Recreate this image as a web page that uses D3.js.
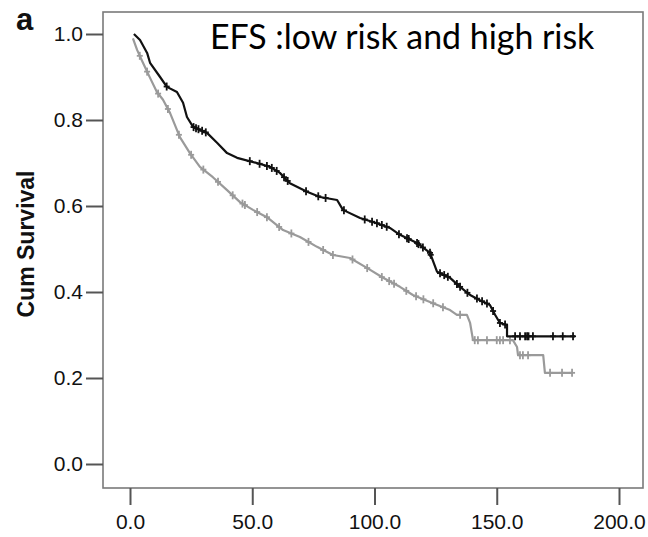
<!DOCTYPE html>
<html>
<head>
<meta charset="utf-8">
<script src="https://cdn.jsdelivr.net/npm/d3@7"></script>
<style>
  body { margin: 0; background: #fff; }
  svg { display: block; }
</style>
</head>
<body>
<div class="chart"></div>
<script>
// Traced Kaplan-Meier outlines (time, cumulative survival)
const lowTimes = [1.6, 4.1, 7.0, 8.2, 12.3, 15.1, 19.2, 21.7, 23.3, 25.8, 31.5, 35.6, 39.7, 43.8, 51.9, 57.3, 61.3, 65.4, 72.4, 77.7, 84.7, 87.1, 94.1, 101.0, 106.3, 110.4, 117.4, 122.7, 125.6, 130.9, 135.0, 139.1, 143.1, 147.2, 149.3, 151.3, 154.2, 154.2, 182];
const lowSurv  = [1.0, 0.986, 0.956, 0.933, 0.900, 0.877, 0.865, 0.840, 0.807, 0.784, 0.770, 0.747, 0.723, 0.712, 0.700, 0.691, 0.677, 0.653, 0.633, 0.621, 0.614, 0.591, 0.572, 0.560, 0.549, 0.533, 0.514, 0.491, 0.447, 0.433, 0.412, 0.393, 0.381, 0.370, 0.347, 0.328, 0.323, 0.297, 0.297];
const lowCensored = [15, 26, 27, 28, 29.5, 31, 49, 53, 56, 58, 60, 63, 64.5, 72, 77, 80, 87.5, 96, 99, 101, 103, 105, 110, 113.3, 114, 117.4, 118, 119.8, 122.7, 123, 126.8, 128.5, 130, 133.7, 135, 138, 141.9, 144, 146, 148.5, 151.3, 153.4, 157.5, 159.5, 161.6, 162.4, 163, 164.8, 173, 177, 181.2];

const highTimes = [1.2, 2.9, 5.3, 8.2, 11.0, 13.5, 16.4, 20.4, 24.5, 28.6, 33.9, 39.7, 45.0, 50.3, 56.0, 62.6, 69.5, 76.5, 83.0, 90.0, 96.9, 103.5, 110.4, 115.7, 123.9, 130.9, 133.7, 137.8, 139.1, 140.3, 156.6, 158.3, 158.7, 169.0, 169.7, 181];
const highSurv  = [0.99, 0.963, 0.933, 0.898, 0.865, 0.847, 0.816, 0.760, 0.723, 0.691, 0.667, 0.637, 0.609, 0.591, 0.574, 0.544, 0.528, 0.505, 0.486, 0.479, 0.456, 0.433, 0.412, 0.393, 0.374, 0.358, 0.347, 0.347, 0.328, 0.288, 0.288, 0.272, 0.253, 0.253, 0.212, 0.212];
const highCensored = [4, 7, 11.5, 15.5, 20, 25, 30, 36, 42, 46, 47, 52, 56, 61, 66, 73, 79, 83, 91, 97, 103, 106, 108, 113, 117, 120, 124, 128, 135, 141, 142.3, 146, 150, 151.3, 152.6, 155.4, 159.5, 160.7, 162.8, 171.8, 176.7, 180.8];

const xTicks = [0, 50, 100, 150, 200];
const yTicks = [0, 0.2, 0.4, 0.6, 0.8, 1.0];

const width = 648, height = 537;
const frame = { left: 103, top: 12, right: 643, bottom: 488 };

const svg = d3.select(".chart").append("svg")
    .attr("width", width)
    .attr("height", height);

const x = d3.scaleLinear().domain([0, 200]).range([130, 619]);
const y = d3.scaleLinear().domain([0, 1]).range([464, 34]);

// plot frame
svg.append("rect")
    .attr("x", frame.left)
    .attr("y", frame.top)
    .attr("width", frame.right - frame.left)
    .attr("height", frame.bottom - frame.top)
    .attr("fill", "none")
    .attr("stroke", "#7a7a7a")
    .attr("stroke-width", 1.6);

// axes
const yAxis = svg.append("g")
    .attr("transform", `translate(${frame.left},0)`)
    .call(d3.axisLeft(y).tickValues(yTicks).tickFormat(d3.format(".1f")).tickSize(17).tickPadding(3));

const xAxis = svg.append("g")
    .attr("transform", `translate(0,${frame.bottom})`)
    .call(d3.axisBottom(x).tickValues(xTicks).tickFormat(d3.format(".1f")).tickSize(17).tickPadding(9));

[yAxis, xAxis].forEach(g => {
    g.select(".domain").remove();
    g.selectAll(".tick line").attr("stroke", "#555").attr("stroke-width", 2);
    g.selectAll(".tick text")
        .attr("fill", "#111")
        .style("font-family", "'Liberation Sans', Arial, sans-serif")
        .style("font-size", "21px");
});

// position on the traced outline for a censor mark
function survAt(times, surv, t) {
    const i = Math.max(1, Math.min(times.length - 1, d3.bisectRight(times, t)));
    const t0 = times[i - 1], t1 = times[i];
    if (t1 === t0) return surv[i];
    const k = Math.max(0, Math.min(1, (t - t0) / (t1 - t0)));
    return surv[i - 1] + k * (surv[i] - surv[i - 1]);
}

function drawCurve(times, surv, censored, color) {
    const pts = times.map((t, i) => [t, surv[i]]);
    svg.append("path")
        .datum(pts)
        .attr("fill", "none")
        .attr("stroke", color)
        .attr("stroke-width", 2.2)
        .attr("stroke-linejoin", "round")
        .attr("d", d3.line().x(d => x(d[0])).y(d => y(d[1])));

    const marks = svg.append("g")
        .attr("stroke", color)
        .attr("stroke-width", 1.8);
    censored.forEach(t => {
        const cx = x(t), cy = y(survAt(times, surv, t));
        marks.append("line").attr("x1", cx).attr("x2", cx).attr("y1", cy - 4).attr("y2", cy + 4);
        marks.append("line").attr("x1", cx - 3).attr("x2", cx + 3).attr("y1", cy).attr("y2", cy);
    });
}

drawCurve(highTimes, highSurv, highCensored, "#9a9a9a");
drawCurve(lowTimes, lowSurv, lowCensored, "#111");

// y axis title
svg.append("text")
    .attr("transform", "translate(34,244) rotate(-90)")
    .attr("text-anchor", "middle")
    .style("font-family", "'Liberation Sans', Arial, sans-serif")
    .style("font-weight", "bold")
    .style("font-size", "23px")
    .attr("fill", "#111")
    .text("Cum Survival");

// panel letter
svg.append("text")
    .attr("x", 16)
    .attr("y", 30)
    .style("font-family", "'Liberation Sans', Arial, sans-serif")
    .style("font-weight", "bold")
    .style("font-size", "31px")
    .attr("fill", "#111")
    .text("a");

// title inside plot, fitted to the width seen in the picture
const title = svg.append("text")
    .attr("x", 210)
    .attr("y", 49)
    .style("font-family", "Lato, 'Open Sans', sans-serif")
    .style("font-size", "30px")
    .attr("fill", "#000")
    .text("EFS :low risk and high risk");
const len = title.node().getComputedTextLength();
title.style("font-size", (30 * 385 / len).toFixed(1) + "px");
</script>
</body>
</html>
